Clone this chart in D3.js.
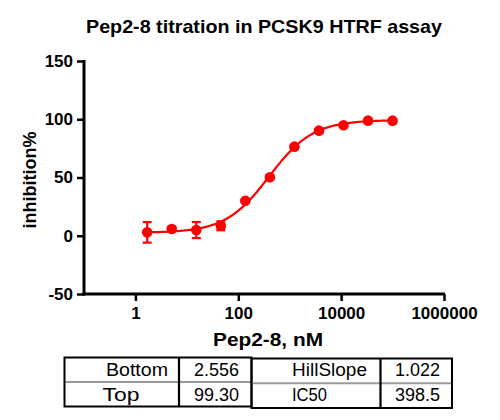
<!DOCTYPE html>
<html><head><meta charset="utf-8">
<script src="https://cdn.jsdelivr.net/npm/d3@7"></script>
<style>body{margin:0;background:#fff}svg{display:block}text{font-family:"Liberation Sans",Arial,sans-serif}</style>
</head><body>
<script>
// Data
const concentrations = [1.6935, 5.0805, 15.2416, 45.7247, 137.174, 411.523, 1234.57, 3703.70, 11111.1, 33333.3, 100000];
const inhibition = [2.9, 5.8, 4.9, 8.6, 30.0, 50.2, 76.5, 90.2, 94.8, 98.8, 98.8];
const errors = [8.8, 2.0, 6.9, 3.9, 1.5, 1.5, 1.5, 1.5, 1.5, 1.5, 1.5];
const xTicks = [1, 100, 10000, 1000000];
const xTickLabels = ["1", "100", "10000", "1000000"];
const yTicks = [-50, 0, 50, 100, 150];
const yTickLabels = ["-50", "0", "50", "100", "150"];
const fitNames = ["Bottom", "Top", "HillSlope", "IC50"];
const fitValues = [2.556, 99.30, 1.022, 398.5];
const fitLabels = ["2.556", "99.30", "1.022", "398.5"];

(function () {
const W = 500, H = 420;
const svg = d3.select("body").append("svg").attr("width", W).attr("height", H);

const x = d3.scaleLog().domain([0.1, 1e6]).range([84, 444]);
const y = d3.scaleLinear().domain([-50, 150]).range([294, 61]);
const red = "#ff0000";

// Title
svg.append("text").attr("x", 264).attr("y", 33).attr("text-anchor", "middle")
  .attr("font-size", 19).attr("font-weight", "bold").attr("textLength", 356).attr("lengthAdjust", "spacingAndGlyphs")
  .text("Pep2-8 titration in PCSK9 HTRF assay");

// Axes
const yAxis = svg.append("g").attr("transform", "translate(84,0)")
  .call(d3.axisLeft(y).tickValues(yTicks).tickSize(7).tickPadding(4).tickFormat((d, i) => yTickLabels[i]));
const xAxis = svg.append("g").attr("transform", "translate(0,294)")
  .call(d3.axisBottom(x).tickValues(xTicks).tickSize(7).tickPadding(6).tickFormat((d, i) => xTickLabels[i]));
[yAxis, xAxis].forEach(g => {
  g.selectAll(".tick line").attr("stroke", "#000").attr("stroke-width", 2.5);
  g.selectAll("text").attr("font-size", 17).attr("font-weight", "bold").attr("fill", "#000")
    .attr("font-family", '"Liberation Sans",Arial,sans-serif');
  g.select(".domain").remove();
});
svg.append("line").attr("x1", 84).attr("x2", 84).attr("y1", y(150) - 1).attr("y2", y(-50) + 1.5)
  .attr("stroke", "#000").attr("stroke-width", 3);
svg.append("line").attr("x1", 82.5).attr("x2", x(1e6) + 1).attr("y1", y(-50)).attr("y2", y(-50))
  .attr("stroke", "#000").attr("stroke-width", 3);

// Axis labels
svg.append("text").attr("transform", "translate(36,180) rotate(-90)").attr("text-anchor", "middle")
  .attr("font-size", 18).attr("font-weight", "bold").attr("textLength", 97).attr("lengthAdjust", "spacingAndGlyphs")
  .text("inhibition%");
svg.append("text").attr("x", 268).attr("y", 346).attr("text-anchor", "middle")
  .attr("font-size", 18).attr("font-weight", "bold").attr("textLength", 110).attr("lengthAdjust", "spacingAndGlyphs")
  .text("Pep2-8, nM");

// Fitted curve (4PL with parameters from table)
const [pBottom, pTop, pHill, pIC50] = fitValues;
const logMin = Math.log10(concentrations[0]), logMax = Math.log10(concentrations[concentrations.length - 1]);
const curveX = d3.range(0, 201).map(i => Math.pow(10, logMin + (logMax - logMin) * i / 200));
const line = d3.line().x(d => x(d)).y(d => y(pBottom + (pTop - pBottom) / (1 + Math.pow(pIC50 / d, pHill))));
svg.append("path").datum(curveX).attr("d", line).attr("fill", "none").attr("stroke", red).attr("stroke-width", 2.2);

// Error bars
const pts = concentrations.map((c, i) => ({c, v: inhibition[i], e: errors[i]}));
const eb = svg.append("g").attr("stroke", red).attr("stroke-width", 2.2);
pts.forEach(p => {
  eb.append("line").attr("x1", x(p.c)).attr("x2", x(p.c)).attr("y1", y(p.v - p.e)).attr("y2", y(p.v + p.e));
  [p.v - p.e, p.v + p.e].forEach(v => eb.append("line").attr("x1", x(p.c) - 4.5).attr("x2", x(p.c) + 4.5).attr("y1", y(v)).attr("y2", y(v)));
});
svg.append("g").selectAll("circle").data(pts).join("circle")
  .attr("cx", d => x(d.c)).attr("cy", d => y(d.v)).attr("r", 5.3).attr("fill", red);

// Table
const tbl = svg.append("g");
const rowY = [375.5, 401];
function box(x0, x1, y0, y1, xd) {
  tbl.append("line").attr("x1", x0).attr("x2", x1).attr("y1", (y0 + y1) / 2).attr("y2", (y0 + y1) / 2).attr("stroke", "#9a9a9a").attr("stroke-width", 2);
  tbl.append("rect").attr("x", x0).attr("y", y0).attr("width", x1 - x0).attr("height", y1 - y0)
    .attr("fill", "none").attr("stroke", "#000").attr("stroke-width", 2);
  tbl.append("line").attr("x1", xd).attr("x2", xd).attr("y1", y0).attr("y2", y1).attr("stroke", "#000").attr("stroke-width", 2.2);
}
box(64.5, 251.5, 357.5, 406.5, 179);
box(251.5, 452, 358.5, 408, 380.5);
const nameX = [168, 121, 292, 292];
const nameAnchor = ["end", "middle", "start", "start"];
const nameLen = [62, 37, 75, 35];
const valX = [239, 239, 440, 440];
fitNames.forEach((n, i) => {
  const ry = rowY[i % 2];
  tbl.append("text").attr("x", nameX[i]).attr("y", ry).attr("text-anchor", nameAnchor[i])
    .attr("font-size", 18).attr("textLength", nameLen[i]).attr("lengthAdjust", "spacingAndGlyphs").text(n);
  tbl.append("text").attr("x", valX[i]).attr("y", ry).attr("text-anchor", "end")
    .attr("font-size", 18).text(fitLabels[i]);
});
})();
</script>
</body></html>
